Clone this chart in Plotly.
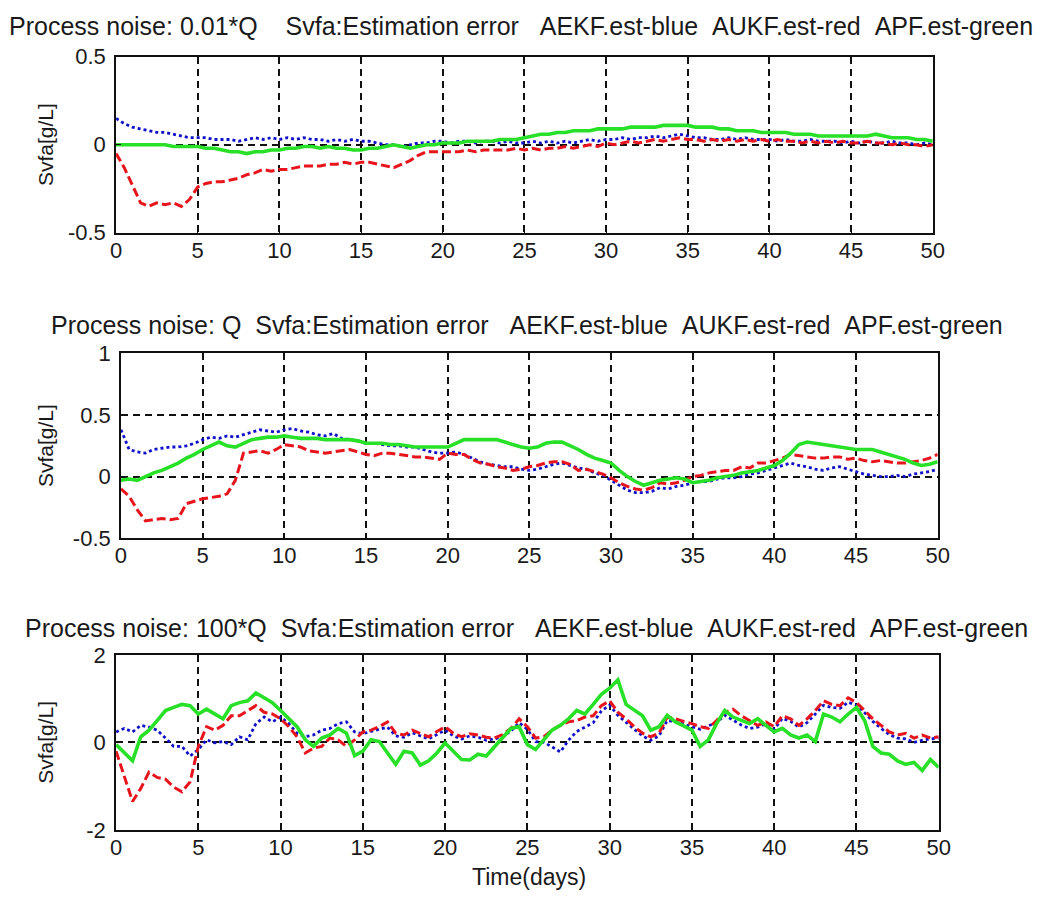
import plotly.graph_objects as go

W, H = 1046, 913

days = [i * 0.5 for i in range(101)]

# ---------------- Panel 1 : process noise 0.01*Q ----------------
aekf_001q = [
    0.15, 0.12, 0.10, 0.09, 0.08, 0.07, 0.07, 0.06, 0.05, 0.04,
    0.04, 0.04, 0.03, 0.03, 0.03, 0.02, 0.03, 0.04, 0.03, 0.04,
    0.03, 0.04, 0.03, 0.04, 0.03, 0.03, 0.02, 0.03, 0.02, 0.03,
    0.02, 0.02, 0.01, 0.00, 0.00, -0.01, 0.00, 0.01, 0.01, 0.02,
    0.02, 0.01, 0.02, 0.02, 0.01, 0.02, 0.02, 0.01, 0.02, 0.01,
    0.01, 0.02, 0.01, 0.02, 0.01, 0.02, 0.01, 0.02, 0.03, 0.02,
    0.03, 0.03, 0.04, 0.03, 0.04, 0.04, 0.05, 0.04, 0.05, 0.06,
    0.05, 0.04, 0.04, 0.03, 0.03, 0.04, 0.03, 0.04, 0.03, 0.03,
    0.03, 0.02, 0.03, 0.02, 0.02, 0.03, 0.02, 0.02, 0.02, 0.01,
    0.02, 0.01, 0.02, 0.01, 0.01, 0.02, 0.01, 0.01, 0.00, 0.01,
    0.00]
aukf_001q = [
    -0.05, -0.13, -0.23, -0.33, -0.35, -0.33, -0.34, -0.33, -0.35, -0.31,
    -0.24, -0.22, -0.21, -0.21, -0.20, -0.19, -0.17, -0.16, -0.14, -0.15,
    -0.14, -0.14, -0.13, -0.12, -0.12, -0.12, -0.11, -0.11, -0.10, -0.11,
    -0.10, -0.10, -0.11, -0.12, -0.13, -0.11, -0.09, -0.06, -0.04, -0.04,
    -0.04, -0.04, -0.04, -0.03, -0.04, -0.03, -0.03, -0.03, -0.03, -0.02,
    -0.03, -0.02, -0.03, -0.02, -0.02, -0.01, -0.02, -0.01, 0.00, -0.01,
    0.01, 0.00, 0.01, 0.02, 0.01, 0.02, 0.03, 0.02, 0.03, 0.04,
    0.03, 0.03, 0.02, 0.03, 0.02, 0.03, 0.02, 0.03, 0.02, 0.03,
    0.02, 0.03, 0.02, 0.02, 0.01, 0.02, 0.01, 0.02, 0.01, 0.02,
    0.01, 0.01, 0.02, 0.01, 0.01, 0.00, 0.01, 0.00, 0.00, -0.01,
    0.00]
apf_001q = [
    0.00, 0.00, 0.00, 0.00, 0.00, 0.00, 0.00, -0.01, -0.01, -0.01,
    -0.01, -0.02, -0.02, -0.03, -0.04, -0.04, -0.05, -0.04, -0.04, -0.03,
    -0.03, -0.02, -0.02, -0.01, -0.01, -0.02, -0.01, -0.02, -0.02, -0.03,
    -0.03, -0.02, -0.02, -0.01, 0.00, -0.01, -0.02, -0.01, 0.00, 0.00,
    0.01, 0.01, 0.01, 0.02, 0.02, 0.02, 0.02, 0.03, 0.03, 0.03,
    0.04, 0.05, 0.06, 0.06, 0.07, 0.07, 0.08, 0.08, 0.08, 0.09,
    0.09, 0.09, 0.09, 0.10, 0.10, 0.10, 0.10, 0.11, 0.11, 0.11,
    0.11, 0.10, 0.10, 0.10, 0.09, 0.09, 0.08, 0.08, 0.08, 0.07,
    0.07, 0.07, 0.07, 0.06, 0.06, 0.06, 0.05, 0.05, 0.05, 0.05,
    0.05, 0.05, 0.05, 0.06, 0.05, 0.04, 0.04, 0.04, 0.03, 0.03,
    0.02]

# ---------------- Panel 2 : process noise Q ----------------
aekf_q = [
    0.38, 0.22, 0.20, 0.19, 0.22, 0.23, 0.24, 0.24, 0.25, 0.27,
    0.30, 0.32, 0.31, 0.33, 0.32, 0.34, 0.36, 0.38, 0.37, 0.36,
    0.38, 0.39, 0.37, 0.36, 0.34, 0.33, 0.35, 0.31, 0.30, 0.29,
    0.27, 0.27, 0.26, 0.25, 0.25, 0.24, 0.24, 0.22, 0.20, 0.19,
    0.19, 0.20, 0.18, 0.15, 0.12, 0.10, 0.09, 0.08, 0.08, 0.06,
    0.05, 0.06, 0.08, 0.10, 0.11, 0.09, 0.07, 0.06, 0.03, 0.01,
    -0.03, -0.07, -0.11, -0.13, -0.13, -0.12, -0.09, -0.10, -0.08, -0.07,
    -0.05, -0.04, -0.04, -0.02, -0.01, -0.01, 0.00, 0.02, 0.03, 0.05,
    0.07, 0.09, 0.11, 0.09, 0.08, 0.06, 0.05, 0.07, 0.08, 0.06,
    0.04, 0.02, 0.01, 0.00, 0.00, 0.01, 0.00, 0.02, 0.03, 0.04,
    0.06]
aukf_q = [
    -0.10, -0.16, -0.27, -0.36, -0.35, -0.34, -0.35, -0.34, -0.22, -0.20,
    -0.18, -0.17, -0.16, -0.14, -0.03, 0.19, 0.20, 0.21, 0.19, 0.22,
    0.26, 0.25, 0.24, 0.21, 0.20, 0.19, 0.20, 0.21, 0.22, 0.20,
    0.18, 0.17, 0.19, 0.19, 0.18, 0.17, 0.16, 0.16, 0.15, 0.14,
    0.19, 0.18, 0.18, 0.14, 0.11, 0.10, 0.08, 0.07, 0.05, 0.06,
    0.08, 0.09, 0.11, 0.12, 0.12, 0.10, 0.05, 0.06, 0.04, 0.02,
    -0.01, -0.05, -0.08, -0.10, -0.11, -0.09, -0.05, -0.06, -0.05, -0.03,
    0.00, 0.01, 0.03, 0.04, 0.05, 0.05, 0.08, 0.07, 0.11, 0.11,
    0.13, 0.15, 0.18, 0.17, 0.16, 0.15, 0.15, 0.16, 0.16, 0.14,
    0.15, 0.13, 0.12, 0.13, 0.12, 0.11, 0.11, 0.12, 0.13, 0.15,
    0.18]
apf_q = [
    -0.03, -0.02, -0.03, 0.00, 0.03, 0.05, 0.08, 0.11, 0.15, 0.18,
    0.22, 0.25, 0.28, 0.25, 0.24, 0.27, 0.30, 0.31, 0.32, 0.32,
    0.33, 0.32, 0.31, 0.31, 0.31, 0.30, 0.30, 0.30, 0.30, 0.29,
    0.27, 0.27, 0.27, 0.26, 0.26, 0.25, 0.24, 0.24, 0.24, 0.24,
    0.24, 0.27, 0.30, 0.30, 0.30, 0.30, 0.30, 0.28, 0.26, 0.24,
    0.23, 0.24, 0.27, 0.28, 0.28, 0.25, 0.22, 0.18, 0.15, 0.13,
    0.11, 0.05, 0.00, -0.04, -0.07, -0.05, -0.03, -0.02, -0.01, -0.02,
    -0.05, -0.04, -0.03, -0.01, 0.00, 0.01, 0.03, 0.04, 0.05, 0.07,
    0.09, 0.13, 0.19, 0.26, 0.28, 0.27, 0.26, 0.25, 0.24, 0.23,
    0.22, 0.22, 0.22, 0.20, 0.18, 0.16, 0.14, 0.11, 0.09, 0.10,
    0.12]

# ---------------- Panel 3 : process noise 100*Q ----------------
aekf_100q = [
    0.24, 0.32, 0.24, 0.39, 0.35, 0.28, 0.10, -0.09, -0.09, -0.31,
    -0.16, 0.06, -0.01, 0.02, -0.05, 0.13, 0.06, 0.43, 0.58, 0.47,
    0.58, 0.43, 0.21, 0.13, 0.17, 0.28, 0.32, 0.43, 0.47, 0.24,
    0.20, 0.25, 0.30, 0.35, 0.15, 0.12, 0.22, 0.15, 0.08, 0.18,
    0.28, 0.15, 0.08, 0.15, 0.12, 0.05, 0.08, 0.14, 0.26, 0.45,
    0.30, 0.02, 0.00, -0.10, -0.22, 0.05, 0.25, 0.35, 0.45, 0.72,
    0.85, 0.62, 0.45, 0.30, 0.15, 0.05, 0.15, 0.50, 0.48, 0.42,
    0.35, 0.30, 0.38, 0.45, 0.62, 0.50, 0.40, 0.32, 0.35, 0.42,
    0.30, 0.55, 0.48, 0.35, 0.45, 0.65, 0.85, 0.80, 0.78, 0.92,
    0.85, 0.68, 0.48, 0.32, 0.18, 0.10, 0.08, 0.00, 0.05, 0.08,
    0.10]
aukf_100q = [
    -0.20, -0.75, -1.35, -1.05, -0.68, -0.80, -0.84, -1.02, -1.13, -0.90,
    -0.09, 0.36, 0.28, 0.39, 0.61, 0.61, 0.73, 0.84, 0.69, 0.65,
    0.54, 0.36, 0.13, -0.24, -0.13, -0.09, 0.10, 0.06, -0.09, 0.06,
    0.24, 0.28, 0.36, 0.47, 0.21, 0.17, 0.28, 0.20, 0.13, 0.25,
    0.36, 0.21, 0.13, 0.20, 0.17, 0.12, 0.10, 0.18, 0.32, 0.54,
    0.36, 0.10, 0.13, 0.28, 0.39, 0.47, 0.50, 0.58, 0.61, 0.84,
    0.95, 0.69, 0.54, 0.36, 0.21, 0.13, 0.21, 0.58, 0.54, 0.48,
    0.43, 0.36, 0.32, 0.50, 0.69, 0.76, 0.61, 0.50, 0.39, 0.47,
    0.36, 0.61, 0.54, 0.39, 0.54, 0.73, 0.95, 0.87, 0.84, 1.02,
    0.91, 0.73, 0.54, 0.39, 0.24, 0.17, 0.21, 0.10, 0.17, 0.10,
    0.13]
apf_100q = [
    -0.05, -0.24, -0.42, 0.13, 0.28, 0.50, 0.73, 0.80, 0.87, 0.84,
    0.65, 0.76, 0.65, 0.54, 0.84, 0.91, 0.95, 1.13, 1.02, 0.91,
    0.73, 0.54, 0.36, 0.06, -0.09, 0.10, 0.17, 0.32, 0.21, -0.30,
    -0.20, 0.06, 0.02, -0.24, -0.50, -0.20, -0.24, -0.52, -0.42, -0.24,
    -0.01, -0.20, -0.39, -0.40, -0.27, -0.31, -0.09, 0.13, 0.32, 0.36,
    -0.05, -0.16, 0.06, 0.28, 0.39, 0.54, 0.73, 0.65, 0.87, 1.10,
    1.24, 1.43, 0.87, 0.73, 0.61, 0.28, 0.36, 0.62, 0.47, 0.38,
    0.28, -0.09, 0.06, 0.43, 0.73, 0.58, 0.50, 0.43, 0.54, 0.39,
    0.24, 0.32, 0.17, 0.10, 0.17, 0.02, 0.65, 0.58, 0.47, 0.65,
    0.80, 0.50, -0.09, -0.24, -0.27, -0.42, -0.50, -0.46, -0.64, -0.39,
    -0.57]

NB = "\u00a0"
tail = "Svfa:Estimation error" + NB * 3 + "AEKF.est-blue" + NB * 2 + "AUKF.est-red" + NB * 2 + "APF.est-green"
titles = [
    "Process noise: 0.01*Q" + NB * 4 + tail,
    "Process noise: Q" + NB * 2 + tail,
    "Process noise: 100*Q" + NB * 2 + tail,
]
y_ranges = [[-0.5, 0.5], [-0.5, 1.0], [-2, 2]]
y_ticks = [[-0.5, 0, 0.5], [-0.5, 0, 0.5, 1], [-2, 0, 2]]
y_ticktext = [["-0.5", "0", "0.5"], ["-0.5", "0", "0.5", "1"], ["-2", "0", "2"]]
x_ticks = [0, 5, 10, 15, 20, 25, 30, 35, 40, 45, 50]
y_label = "Svfa[g/L]"
x_label = "Time(days)"

panels = [
    (aekf_001q, aukf_001q, apf_001q),
    (aekf_q, aukf_q, apf_q),
    (aekf_100q, aukf_100q, apf_100q),
]

# pixel boxes of the three axes: (left, right, top, bottom)
boxes = [(112, 943, 46, 227), (117, 948, 351, 541), (112, 949, 661, 841)]
title_pos = [(524, 14), (530, 322), (530, 633)]


def px(x):
    return x / W


def py(y):
    return 1 - y / H


FONT = "Liberation Sans, Arial, sans-serif"
TXT = "#1a1a1a"
fig = go.Figure()
layout = dict(
    width=W, height=H, margin=dict(l=0, r=0, t=0, b=0),
    paper_bgcolor="white", plot_bgcolor="white", showlegend=False,
    font=dict(family=FONT, size=22, color=TXT),
)
annotations = []
for k, (b, r, g) in enumerate(panels):
    sfx = "" if k == 0 else str(k + 1)
    xa, ya = "x" + sfx, "y" + sfx
    style = [("#1010c8", "3px,3px", 2.8, b), ("#e8141c", "9px,4px", 3.0, r), ("#28e028", "solid", 3.6, g)]
    for color, dash, wdt, vals in style:
        fig.add_trace(go.Scatter(x=days, y=vals, mode="lines", xaxis=xa, yaxis=ya,
                                 line=dict(color=color, dash=dash, width=wdt)))
    L, R, T, B = boxes[k]
    common = dict(showline=True, linecolor="#111", linewidth=1.6, mirror=True,
                  ticks="inside", ticklen=5, tickcolor="#111",
                  showgrid=True, gridcolor="#111", gridwidth=1.6, griddash="7px,5px",
                  zeroline=False, tickfont=dict(family=FONT, size=22, color=TXT))
    layout["xaxis" + sfx] = dict(domain=[px(L), px(R)], anchor=ya, range=[0, 50],
                                 tickvals=x_ticks, ticklabelstandoff=-3, **common)
    layout["yaxis" + sfx] = dict(domain=[py(B), py(T)], anchor=xa,
                                 range=y_ranges[k], tickvals=y_ticks[k],
                                 ticktext=y_ticktext[k], ticklabelstandoff=4, **common)
    tx, ty = title_pos[k]
    annotations.append(dict(text=titles[k], xref="paper", yref="paper",
                            x=px(tx), y=py(ty), showarrow=False,
                            xanchor="center", yanchor="middle",
                            font=dict(family=FONT, size=25, color=TXT)))
    annotations.append(dict(text=y_label, xref="paper", yref="paper", textangle=-90,
                            x=px(40), y=py(0.5 * (T + B)), showarrow=False,
                            xanchor="center", yanchor="middle",
                            font=dict(family=FONT, size=21, color=TXT)))
annotations.append(dict(text=x_label, xref="paper", yref="paper", x=px(532), y=py(889),
                        showarrow=False, xanchor="center", yanchor="middle",
                        font=dict(family=FONT, size=23, color=TXT)))
layout["annotations"] = annotations
fig.update_layout(**layout)
fig.write_html("out.html", config={"displayModeBar": False},
               post_script="document.body.style.margin='0';document.body.style.overflow='hidden';")
